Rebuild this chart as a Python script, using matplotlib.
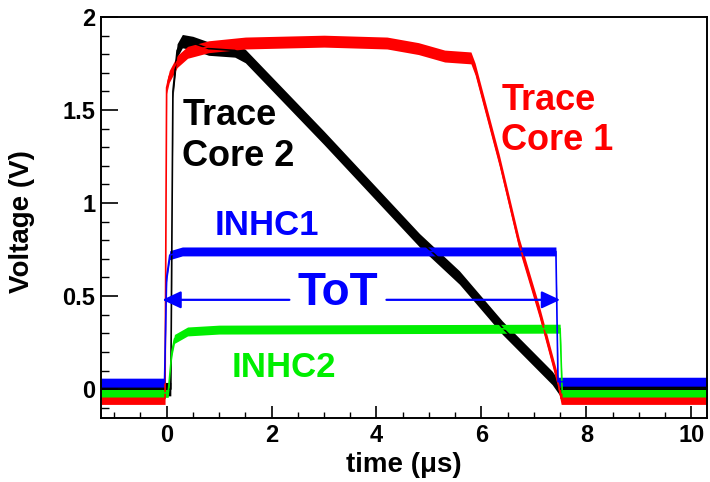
import numpy as np
import matplotlib
matplotlib.use("Agg")
import matplotlib.pyplot as plt

plt.rcParams['font.family'] = ['Liberation Sans', 'DejaVu Sans']
plt.rcParams['font.weight'] = 'bold'
plt.rcParams['axes.labelweight'] = 'bold'

# key points (time in us, voltage in V)
t_core1 = [-1.25, -0.03, 0.0, 0.05, 0.2, 0.4, 0.8, 1.5, 3.0, 4.2, 4.8, 5.3, 5.8,
           5.88, 6.34, 6.72, 7.1, 7.45, 7.52, 10.3]
v_core1 = [-0.05, -0.05, 1.62, 1.68, 1.76, 1.81, 1.84, 1.86, 1.87, 1.86, 1.83,
           1.79, 1.78, 1.72, 1.23, 0.78, 0.42, 0.05, -0.05, -0.05]

t_core2 = [-1.25, 0.08, 0.12, 0.2, 0.3, 0.5, 0.8, 1.3, 1.5, 3.0, 4.82, 5.58,
           6.4, 7.35, 7.5, 10.3]
v_core2 = [0.0, 0.0, 1.6, 1.82, 1.87, 1.86, 1.83, 1.82, 1.79, 1.35, 0.8, 0.6,
           0.33, 0.06, 0.0, 0.0]

t_inhc1 = [-1.25, -0.04, 0.0, 0.06, 0.3, 7.42, 7.46, 10.3]
v_inhc1 = [0.035, 0.035, 0.6, 0.72, 0.74, 0.74, 0.04, 0.04]

t_inhc2 = [-1.25, 0.03, 0.1, 0.15, 0.4, 1.0, 7.5, 7.54, 10.3]
v_inhc2 = [-0.02, -0.02, 0.2, 0.27, 0.31, 0.32, 0.325, -0.02, -0.02]

x_ticks = [0, 2, 4, 6, 8, 10]
x_tick_labels = ['0', '2', '4', '6', '8', '10']
y_ticks = [0, 0.5, 1, 1.5, 2]
y_tick_labels = ['0', '0.5', '1', '1.5', '2']

tot_start, tot_end, tot_level = -0.08, 7.5, 0.48

fig = plt.figure(figsize=(7.1, 4.82), dpi=100)
ax = fig.add_axes([0.1423, 0.1328, 0.8535, 0.832])


def trace(t, v, color, half):
    t = np.array(t)
    v = np.array(v)
    ax.fill_between(t, v - half, v + half, color=color, lw=0)
    ax.plot(t, v, color=color, lw=1.2)


trace(t_core2, v_core2, 'black', 0.036)
trace(t_core1, v_core1, 'red', 0.032)
trace(t_inhc2, v_inhc2, '#00ee00', 0.024)
trace(t_inhc1, v_inhc1, 'blue', 0.024)

# ToT arrow, split around the label
aprops = dict(arrowstyle='-|>,head_length=0.75,head_width=0.35', color='blue',
              lw=1.6, mutation_scale=15, shrinkA=0, shrinkB=0)
ax.annotate('', xy=(tot_start, tot_level), xytext=(2.34, tot_level), arrowprops=aprops)
ax.annotate('', xy=(tot_end, tot_level), xytext=(4.19, tot_level), arrowprops=aprops)
ax.text(3.26, 0.45, 'ToT', color='blue', fontsize=33, ha='center', va='baseline')

ax.text(0.30, 1.20, 'Trace\nCore 2', color='black', fontsize=26, va='baseline',
        linespacing=1.2)
ax.text(6.38, 1.285, 'Trace\nCore 1', color='red', fontsize=26, va='baseline',
        linespacing=1.2)
ax.text(0.91, 0.83, 'INHC1', color='blue', fontsize=25, va='baseline')
ax.text(1.24, 0.065, 'INHC2', color='#00ee00', fontsize=25, va='baseline')

ax.set_xlim(-1.25, 10.3)
ax.set_ylim(-0.155, 2.0)
ax.set_xticks(x_ticks)
ax.set_xticklabels(x_tick_labels, fontweight='bold', fontsize=17)
ax.set_xticks(np.arange(-1.0, 10.3, 0.5), minor=True)
ax.set_yticks(y_ticks)
ax.set_yticklabels(y_tick_labels, fontweight='bold', fontsize=17)
ax.set_yticks(np.arange(-0.1, 2.0, 0.1), minor=True)
ax.tick_params(axis='x', which='major', direction='in', length=8.6, width=1.2, pad=4)
ax.tick_params(axis='x', which='minor', direction='in', length=4.3, width=1.0)
ax.tick_params(axis='y', which='major', direction='in', length=12, width=1.2, pad=4)
ax.tick_params(axis='y', which='minor', direction='in', length=6, width=1.0)
for s in ax.spines.values():
    s.set_linewidth(1.4)

ax.set_xlabel('time (\u03bcs)', fontsize=20, fontweight='bold')
ax.set_ylabel('Voltage (V)', fontsize=20, fontweight='bold')
ax.xaxis.set_label_coords(0.5, -0.085)
ax.yaxis.set_label_coords(-0.109, 0.49)

fig.savefig('out.png', dpi=100)
